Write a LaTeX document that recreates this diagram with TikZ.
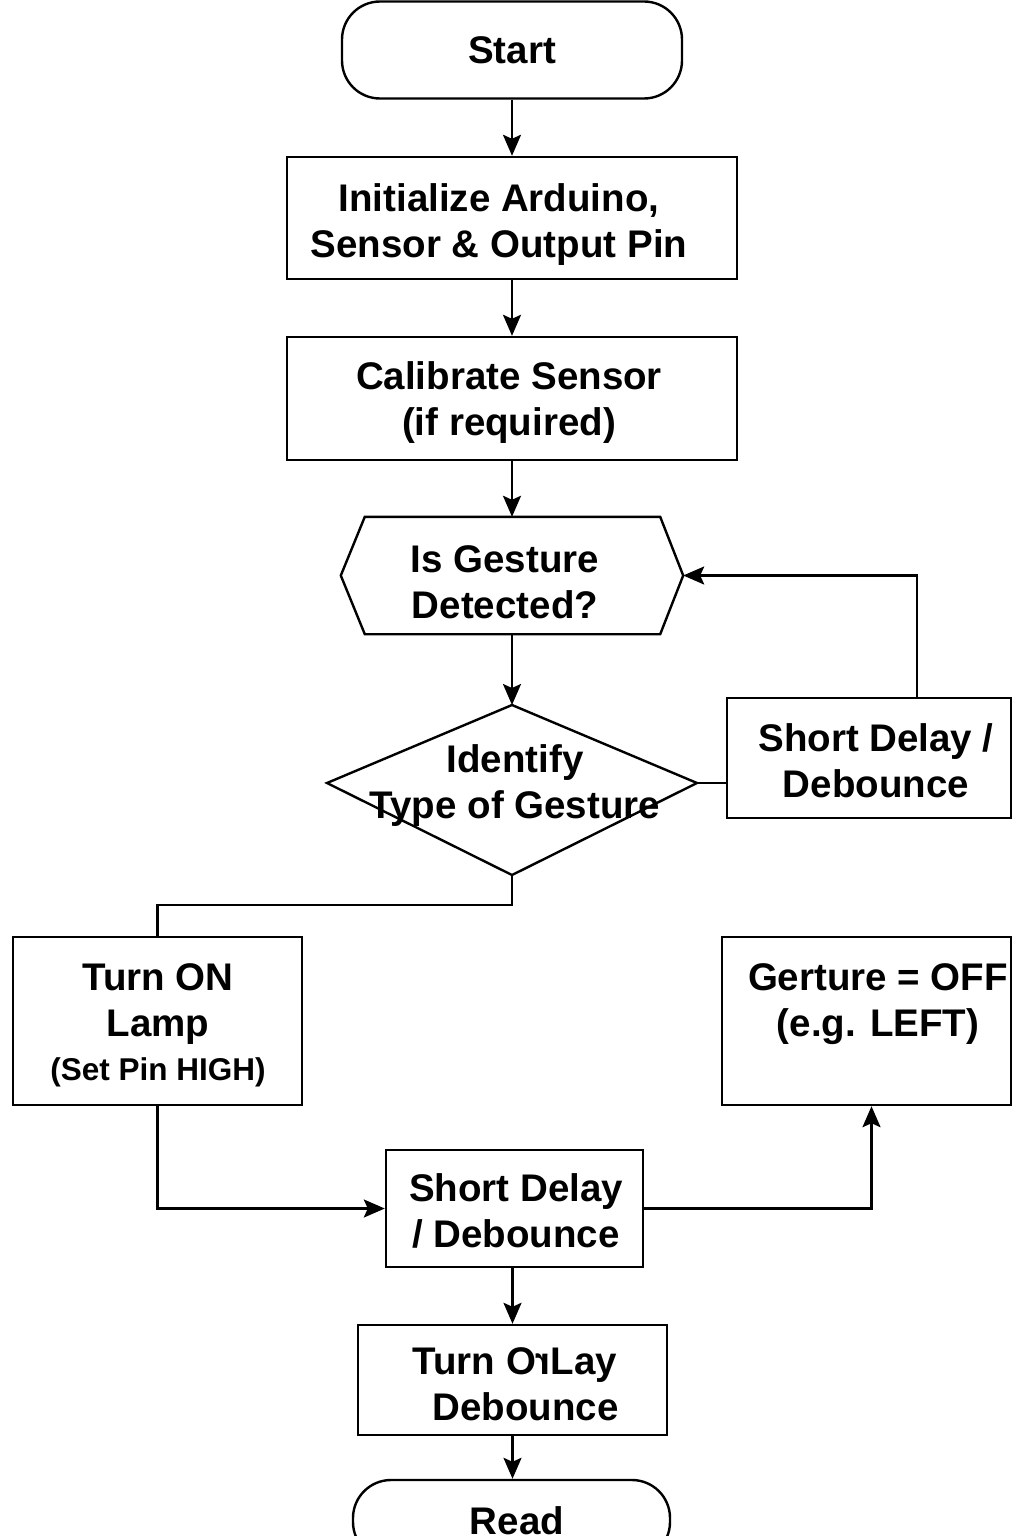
\documentclass[tikz,border=0pt]{standalone}
\usepackage{fontspec}
\setmainfont{Liberation Sans}
\usepackage{graphicx}
\usetikzlibrary{arrows.meta,calc}
\tikzset{
  every node/.style={font=\bfseries\fontsize{38.5}{46}\selectfont, inner sep=0pt},
  box/.style={draw, line width=2.4pt, align=center},
  term/.style={draw, line width=2.4pt, rounded corners=38pt, align=center},
  plain/.style={align=center},
  conn/.style={line width=2.4pt},
  arr/.style={line width=2.4pt, -{Stealth[length=21pt,width=18pt,inset=4pt]}},
}
\begin{document}
\begin{tikzpicture}[x=1pt,y=-1pt]
\path[use as bounding box] (0,0) rectangle (1024,1536);
\clip (0,0) rectangle (1024,1536);
\fill[white] (0,0) rectangle (1024,1536);

\node[term, minimum width=340pt, minimum height=97pt] (start) at (512,50) {Start};
\node[box, minimum width=450pt, minimum height=122pt] (init) at (512,218) {};
\node[plain] (initt) at (499,225) {Initialize Arduino,\\Sensor \& Output Pin};
\node[box, minimum width=450pt, minimum height=123pt] (cal) at (512,398.5) {};
\node[plain] (calt) at (509,403) {Calibrate Sensor\\(if required)};

\node[plain, minimum width=342pt, minimum height=117pt] (hex) at (512,575.5) {};
\draw[conn] (hex.west) -- ($(hex.north west)+(24,0)$) -- ($(hex.north east)+(-23,0)$) -- (hex.east)
  -- ($(hex.south east)+(-23,0)$) -- ($(hex.south west)+(24,0)$) -- cycle;
\node[plain] (hext) at (505,582) {Is Gesture\\Detected?};

\coordinate (dT) at (512,705);
\coordinate (dB) at (512,875);
\coordinate (dL) at (327,783);
\coordinate (dR) at (697,783);
\draw[conn] (dT) -- (dR) -- (dB) -- (dL) -- cycle;
\node[plain] (dia) at (515,786) {Identify\\Type of Gesture};

\node[box, minimum width=284pt, minimum height=120pt] (sdR) at (869,758) {};
\node[plain] (sdRt) at (876,761) {Short Delay /\\Debounce};

\node[box, minimum width=289pt, minimum height=168pt] (lamp) at (157.5,1021) {};
\node[plain] (lampt) at (158,1025) {Turn ON\\Lamp\\[-2pt]{\fontsize{31.5}{40}\selectfont (Set Pin HIGH)}};

\node[box, minimum width=289pt, minimum height=168pt] (gert) at (866.5,1021) {};
\node[plain] (gertt) at (878,1004) {Gerture = OFF\\(e.g. LEFT)};

\node[box, minimum width=257pt, minimum height=117pt] (sdM) at (514.5,1208.5) {};
\node[plain] (sdMt) at (516,1211) {Short Delay\\/ Debounce};
\node[box, minimum width=309pt, minimum height=110pt] (turn) at (512.5,1380) {};
\node[plain] (turnt) at (515,1384) {Turn O\reflectbox{r}Lay\\\ \ Debounce};
\node[term, minimum width=317pt, minimum height=80pt] (read) at (511.5,1520) {};
\node[plain] (readt) at (517,1521) {Read};

\draw[arr] (start.south) -- (init.north);
\draw[arr] (init.south) -- (cal.north);
\draw[arr] (cal.south) -- (hex.north);
\draw[arr] (hex.south) -- (dT);
\draw[conn] (dB) -- ++(0,30) -| (lamp.north);
\draw[conn] (dR) -- (dR -| sdR.west);
\draw[arr] ($(sdR.north)+(48,0)$) |- (hex.east);
\draw[arr] (lamp.south) |- (sdM.west);
\draw[arr] (sdM.east) -| ($(gert.south)+(5,0)$);
\draw[arr] (turn.north |- sdM.south) -- (turn.north);
\draw[arr] (turn.south) -- (turn.south |- read.north);
\end{tikzpicture}
\end{document}
